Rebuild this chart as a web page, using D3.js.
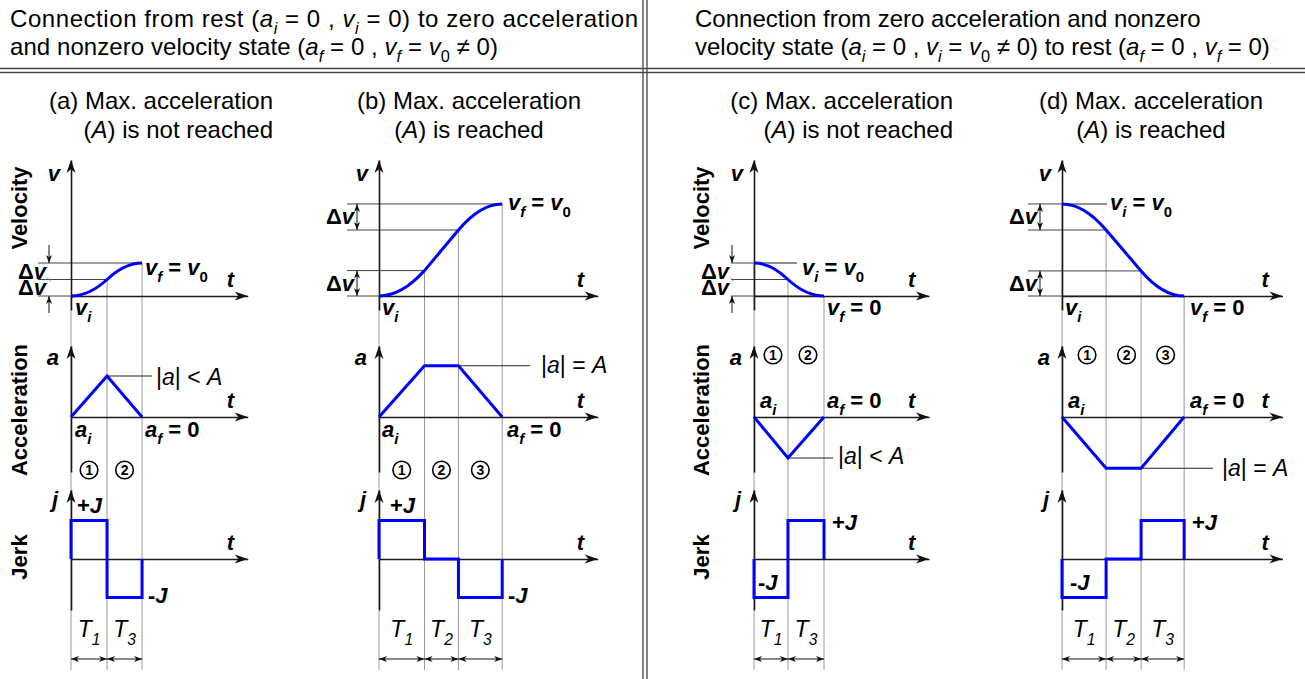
<!DOCTYPE html>
<html>
<head>
<meta charset="utf-8">
<script src="https://cdn.jsdelivr.net/npm/d3@7"></script>
<style>
  body { margin: 0; background: #fff; }
  svg { display: block; }
  text { font-family: "Liberation Sans", Arial, Helvetica, sans-serif; fill: #000; }
</style>
</head>
<body>
<svg id="chart" width="1305" height="679"></svg>
<script>
// ---- profile data (one entry per panel a, b, c, d) ----
// segment durations (time units)
const segDurations = [[1.03, 1.0], [1.3, 0.97, 1.25], [0.97, 1.03], [1.26, 1.0, 1.23]];
// velocity at each segment boundary
const velocityLevels = [[0, 0.5, 1], [0, 0.77, 2.0, 2.79], [1, 0.5, 0], [2.79, 2.0, 0.76, 0]];
// acceleration at each segment boundary
const accelLevels = [[0, 1, 0], [0, 1.25, 1.25, 0], [0, -1, 0], [0, -1.25, -1.25, 0]];
// jerk during each segment (+J / 0 / -J)
const jerkLevels = [[1, -1], [1, 0, -1], [-1, 1], [-1, 0, 1]];
// end of each time axis
const timeAxisMax = [5.05, 6.25, 5.0, 6.3];
// segment names T1, T2, T3
const segNames = [["1", "3"], ["1", "2", "3"], ["1", "3"], ["1", "2", "3"]];

const headerLeft = [
  "Connection from rest ([i]a[/i][si]i[/si] = 0 , [i]v[/i][si]i[/si] = 0) to zero acceleration",
  "and nonzero velocity state ([i]a[/i][si]f[/si] = 0 , [i]v[/i][si]f[/si] = [i]v[/i][s]0[/s] \u2260 0)"
];
const headerRight = [
  "Connection from zero acceleration and nonzero",
  "velocity state ([i]a[/i][si]i[/si] = 0 , [i]v[/i][si]i[/si] = [i]v[/i][s]0[/s] \u2260 0) to rest ([i]a[/i][si]f[/si] = 0 , [i]v[/i][si]f[/si] = 0)"
];
const panelTitles = [
  ["(a) Max. acceleration", "([i]A[/i]) is not reached"],
  ["(b) Max. acceleration", "([i]A[/i]) is reached"],
  ["(c) Max. acceleration", "([i]A[/i]) is not reached"],
  ["(d) Max. acceleration", "([i]A[/i]) is reached"]
];
const accelBoundText = [
  "|[i]a[/i]| < [i]A[/i]", "|[i]a[/i]| = [i]A[/i]",
  "|[i]a[/i]| < [i]A[/i]", "|[i]a[/i]| = [i]A[/i]"
];
const sideLabels = ["Velocity", "Acceleration", "Jerk"];

// ---- layout ----
const TIME_PX = 35;
const layout = [
  { x0: 71, refOff: 33, titleX: 273, titleAnchor: "end", sideX: 27,
    vLab: { text: "[i]v[/i][si]f[/si] = [i]v[/i][s]0[/s]", x: 145, y: 275 },
    vBot: [{ text: "[i]v[/i][si]i[/si]", x: 75, y: 315 }],
    aLabY: 437, aStartX: 75, aEndX: 145, magK: 1, magLX: 152, magX: 156, magDy: 9,
    circY: 470, circDx: 0, jPlus: [77, 513], jMinus: [148, 603], dv: "outer" },
  { x0: 379, refOff: 32, titleX: 469, titleAnchor: "middle", sideX: null,
    vLab: { text: "[i]v[/i][si]f[/si] = [i]v[/i][s]0[/s]", x: 508, y: 210 },
    vBot: [{ text: "[i]v[/i][si]i[/si]", x: 382, y: 315 }],
    aLabY: 437, aStartX: 382, aEndX: 507, magK: 2, magLX: 530, magX: 541, magDy: 7,
    circY: 470, circDx: 0, jPlus: [390, 513], jMinus: [508, 603], dv: "inner" },
  { x0: 754, refOff: 23, titleX: 953, titleAnchor: "end", sideX: 709,
    vLab: { text: "[i]v[/i][si]i[/si] = [i]v[/i][s]0[/s]", x: 802, y: 275, leader: 797 },
    vBot: [{ text: "[i]v[/i][si]f[/si] = 0", x: 827, y: 315 }],
    aLabY: 408, aStartX: 760, aEndX: 827, magK: 1, magLX: 833, magX: 838, magDy: 6,
    circY: 355, circDx: 2, jPlus: [832, 530], jMinus: [758, 590], dv: "outer" },
  { x0: 1062, refOff: 34, titleX: 1151, titleAnchor: "middle", sideX: null,
    vLab: { text: "[i]v[/i][si]i[/si] = [i]v[/i][s]0[/s]", x: 1110, y: 210, leader: 1107 },
    vBot: [{ text: "[i]v[/i][si]i[/si]", x: 1065, y: 315 }, { text: "[i]v[/i][si]f[/si] = 0", x: 1190, y: 315 }],
    aLabY: 408, aStartX: 1068, aEndX: 1190, magK: 2, magLX: 1213, magX: 1222, magDy: 8,
    circY: 355, circDx: 3, jPlus: [1192, 530], jMinus: [1070, 590], dv: "inner" }
];

// value scales shared by all panels
const yV = d3.scaleLinear().domain([0, 1]).range([296, 263]);
const yA = d3.scaleLinear().domain([0, 1]).range([417, 376]);
const yJ = d3.scaleLinear().domain([0, 1]).range([559, 520.5]);
const axisSpan = { v: [310, 160], a: [472, 346], j: [610, 490] };
const GRID_BOTTOM = 670, DIM_Y = 659;

const svg = d3.select("#chart");

// text with [i]..[/i] italic, [s]..[/s] subscript, [si]..[/si] italic subscript
function rich(g, str, x, y, o = {}) {
  const size = o.size || 22;
  const t = g.append("text").attr("x", x).attr("y", y)
    .attr("font-size", size).attr("font-weight", o.weight || "normal")
    .attr("text-anchor", o.anchor || "start").style("white-space", "pre");
  if (o.rotate) t.attr("transform", `rotate(${o.rotate},${x},${y})`);
  if (o.width) t.attr("textLength", o.width).attr("lengthAdjust", "spacing");
  const subSize = size * 0.68, subDy = size * (o.subDrop || 0.3);
  const re = /\[(i|s|si)\](.*?)\[\/\1\]|([^\[]+)/g;
  let m, low = false;
  while ((m = re.exec(str))) {
    const tag = m[1], txt = m[1] ? m[2] : m[3];
    const ts = t.append("tspan").text(txt);
    const isSub = tag === "s" || tag === "si";
    if (isSub) {
      ts.attr("font-size", subSize);
      if (!low) { ts.attr("dy", subDy); low = true; }
    } else if (low) { ts.attr("dy", -subDy); low = false; }
    if (tag === "i" || tag === "si") ts.attr("font-style", "italic");
  }
  return t;
}

// notched arrow head, tip at (x,y); angle 0 points right
function arrowHead(g, x, y, angle, len = 13, hw = 4.5) {
  g.append("path")
    .attr("d", `M0,0L${-len},${-hw}L${-len * 0.72},0L${-len},${hw}Z`)
    .attr("transform", `translate(${x},${y}) rotate(${angle})`)
    .attr("fill", "#111");
}

function segLine(g, x1, y1, x2, y2, color, w) {
  g.append("line").attr("x1", x1).attr("y1", y1).attr("x2", x2).attr("y2", y2)
    .attr("stroke", color).attr("stroke-width", w);
}

// ---- header and separators ----
const head = svg.append("g");
rich(head, headerLeft[0], 10, 27, { size: 24, width: 628 });
rich(head, headerLeft[1], 10, 55, { size: 24, width: 488 });
headerRight.forEach((s, i) => rich(head, s, 695, 27 + i * 28, { size: 24 }));
[68.5, 72.5].forEach(y => segLine(head, 0, y, 1305, y, "#444", 1.3));
[643, 647].forEach(x => segLine(head, x, 0, x, 679, "#444", 1.3));

// ---- panels ----
layout.forEach((L, i) => {
  const g = svg.append("g").attr("class", "panel");
  const x = d3.scaleLinear().domain([0, timeAxisMax[i]])
    .range([L.x0, L.x0 + timeAxisMax[i] * TIME_PX]);
  const bps = Array.from(d3.cumsum([0, ...segDurations[i]]));
  const vel = velocityLevels[i], acc = accelLevels[i], jerk = jerkLevels[i];
  const xEnd = x(timeAxisMax[i]);
  const last = bps.length - 1;

  // titles
  panelTitles[i].forEach((s, k) =>
    rich(g, s, L.titleX, 109 + k * 29, { size: 24, anchor: L.titleAnchor }));

  // grey guide lines at each segment boundary
  bps.forEach((t, k) => segLine(g, x(t), yV(vel[k]), x(t), GRID_BOTTOM, "#9a9a9a", 1));

  // velocity reference levels
  bps.forEach((t, k) => segLine(g, L.x0 - L.refOff, yV(vel[k]), x(t), yV(vel[k]), "#444", 1));
  if (L.vLab.leader) segLine(g, L.x0, yV(vel[0]), L.vLab.leader, yV(vel[0]), "#222", 1.1);

  // axes: time axes through d3.axisBottom, value axes through d3.axisLeft
  const axisStyle = sel => sel.select(".domain").attr("stroke", "#1a1a1a").attr("stroke-width", 1.6);
  [[yV, axisSpan.v], [yA, axisSpan.a], [yJ, axisSpan.j]].forEach(([ys, span]) => {
    g.append("g").attr("transform", `translate(0,${ys(0)})`)
      .call(d3.axisBottom(x).tickValues([]).tickSizeOuter(0)).call(axisStyle);
    arrowHead(g, xEnd, ys(0), 0);
    const yAx = ys.copy().domain([ys.invert(span[0]), ys.invert(span[1])]).range(span);
    g.append("g").attr("transform", `translate(${L.x0},0)`)
      .call(d3.axisLeft(yAx).tickValues([]).tickSizeOuter(0)).call(axisStyle);
    arrowHead(g, L.x0, span[1], -90);
  });

  // velocity: parabolic pieces (jerk != 0) and straight pieces (jerk = 0)
  const vp = d3.path();
  vp.moveTo(x(bps[0]), yV(vel[0]));
  for (let k = 0; k < last; k++) {
    const x2 = x(bps[k + 1]), y2 = yV(vel[k + 1]);
    if (jerk[k] === 0) { vp.lineTo(x2, y2); continue; }
    const frac = acc[k] / (acc[k] + acc[k + 1]);
    const cy = yV(vel[k] + (vel[k + 1] - vel[k]) * frac);
    vp.quadraticCurveTo((x(bps[k]) + x2) / 2, cy, x2, y2);
  }
  const blue = p => p.attr("fill", "none").attr("stroke", "#0000ff").attr("stroke-width", 3)
    .attr("stroke-linejoin", "miter");
  blue(g.append("path").attr("d", vp.toString()));

  // acceleration: piecewise linear
  blue(g.append("path").datum(bps.map((t, k) => [t, acc[k]]))
    .attr("d", d3.line().x(d => x(d[0])).y(d => yA(d[1]))));

  // jerk: step function
  const jPts = [[0, 0]].concat(jerk.map((j, k) => [bps[k], j]), [[bps[last], 0]]);
  blue(g.append("path").datum(jPts)
    .attr("d", d3.line().x(d => x(d[0])).y(d => yJ(d[1])).curve(d3.curveStepAfter)));

  // Δv dimension marks
  const dvX = L.x0 - 22;
  const pairs = [[0, 1], [last - 1, last]];
  if (L.dv === "inner") {
    pairs.forEach(([p, q]) => {
      const ya = Math.min(yV(vel[p]), yV(vel[q])), yb = Math.max(yV(vel[p]), yV(vel[q]));
      segLine(g, dvX, ya, dvX, yb, "#111", 1);
      arrowHead(g, dvX, ya, -90, 8, 3);
      arrowHead(g, dvX, yb, 90, 8, 3);
    });
  } else {
    const top = Math.min(yV(vel[0]), yV(vel[last])), bot = Math.max(yV(vel[0]), yV(vel[last]));
    segLine(g, dvX, top - 18, dvX, top, "#111", 1);
    arrowHead(g, dvX, top, 90, 8, 3);
    segLine(g, dvX, bot + 17, dvX, bot, "#111", 1);
    arrowHead(g, dvX, bot, -90, 8, 3);
    const mid = yV(vel[1]);
    segLine(g, dvX - 2, mid - 2, dvX + 2, mid + 2, "#777", 0.8);
  }
  pairs.forEach(([p, q]) => {
    const ym = (yV(vel[p]) + yV(vel[q])) / 2;
    rich(g, "\u0394[i]v[/i]", L.x0 - 25, ym + 7.5, { size: 22, weight: "bold", anchor: "end" });
  });

  // axis letters
  const bi = { size: 22, weight: "bold" };
  rich(g, "[i]v[/i]", L.x0 - 11, 181, { ...bi, anchor: "end" });
  rich(g, "[i]a[/i]", L.x0 - 12, 365, { ...bi, anchor: "end" });
  rich(g, "[i]j[/i]", L.x0 - 13, 507, { ...bi, anchor: "end" });
  [yV, yA, yJ].forEach(ys => rich(g, "[i]t[/i]", xEnd - 21, ys(0) - 9, bi));

  // velocity labels
  rich(g, L.vLab.text, L.vLab.x, L.vLab.y, bi);
  L.vBot.forEach(b => rich(g, b.text, b.x, b.y, bi));

  // acceleration labels
  rich(g, "[i]a[/i][si]i[/si]", L.aStartX, L.aLabY, bi);
  rich(g, "[i]a[/i][si]f[/si] = 0", L.aEndX, L.aLabY, bi);
  const my = yA(acc[L.magK]);
  segLine(g, x(bps[L.magK]), my, L.magLX, my, "#222", 1.1);
  rich(g, accelBoundText[i], L.magX, my + L.magDy, { size: 23 });

  // segment numbers
  for (let k = 0; k < last; k++) {
    const cx = (x(bps[k]) + x(bps[k + 1])) / 2 + L.circDx;
    g.append("circle").attr("cx", cx).attr("cy", L.circY).attr("r", 8.8)
      .attr("fill", "none").attr("stroke", "#000").attr("stroke-width", 1.6);
    g.append("text").attr("x", cx).attr("y", L.circY + 5).attr("text-anchor", "middle")
      .attr("font-size", 14).attr("font-weight", "bold").text(String(k + 1));
  }

  // jerk labels
  rich(g, "+[i]J[/i]", L.jPlus[0], L.jPlus[1], bi);
  rich(g, "-[i]J[/i]", L.jMinus[0], L.jMinus[1], bi);

  // segment durations with dimension arrows
  segNames[i].forEach((n, k) => {
    const xa = x(bps[k]), xb = x(bps[k + 1]);
    rich(g, `[i]T[/i][si]${n}[/si]`, (xa + xb) / 2, 637, { size: 23, anchor: "middle", subDrop: 0.36 });
    segLine(g, xa, DIM_Y, xb, DIM_Y, "#111", 1);
    arrowHead(g, xa, DIM_Y, 180, 8, 3);
    arrowHead(g, xb, DIM_Y, 0, 8, 3);
  });

  // quantity names on the left
  if (L.sideX !== null) {
    [208, 410, 557].forEach((cy, k) =>
      g.append("text").attr("x", L.sideX).attr("y", cy)
        .attr("transform", `rotate(-90,${L.sideX},${cy})`)
        .attr("text-anchor", "middle").attr("font-size", 22).attr("font-weight", "bold")
        .text(sideLabels[k]));
  }
});
</script>
</body>
</html>
